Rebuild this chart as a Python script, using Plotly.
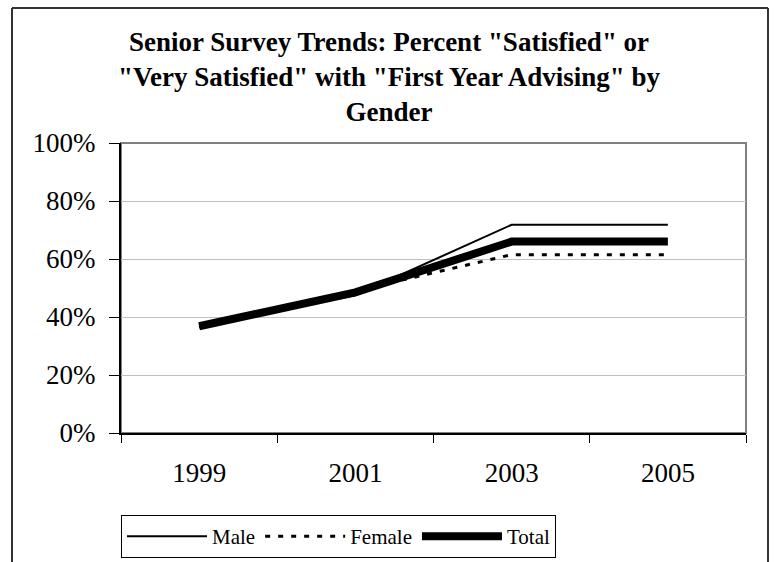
import plotly.graph_objects as go

years = ["1999", "2001", "2003", "2005"]
male = [0.37, 0.475, 0.718, 0.718]
female = [0.365, 0.49, 0.615, 0.615]
total = [0.368, 0.485, 0.66, 0.66]

FONT = "Liberation Serif, Times New Roman, serif"

fig = go.Figure()
fig.add_trace(go.Scatter(x=years, y=male, name="Male", mode="lines",
                         line=dict(color="black", width=2)))
fig.add_trace(go.Scatter(x=years, y=female, name="Female", mode="lines",
                         line=dict(color="black", width=3, dash="5px,8px")))
fig.add_trace(go.Scatter(x=years, y=total, name="Total", mode="lines",
                         line=dict(color="black", width=8)))

# plot area: x 121..746 px, y 143..433 px
L, R, T, B = 121, 746, 143, 433
W, H = 778, 562
pw, ph = R - L, B - T

def px(x):
    return (x - L) / pw

def py(y):
    return (B - y) / ph

shapes = [
    dict(type="rect", xref="paper", yref="paper", x0=0, x1=1, y0=0, y1=1,
         line=dict(color="#808080", width=2), layer="below"),
    dict(type="line", xref="paper", yref="paper", x0=px(12), x1=px(12), y0=py(8), y1=py(570),
         line=dict(color="#333333", width=2)),
    dict(type="line", xref="paper", yref="paper", x0=px(12), x1=px(768), y0=py(8), y1=py(8),
         line=dict(color="#333333", width=2)),
    dict(type="line", xref="paper", yref="paper", x0=px(768), x1=px(768), y0=py(8), y1=py(570),
         line=dict(color="#333333", width=2)),
]

fig.update_layout(
    width=W, height=H,
    margin=dict(l=L, r=W - R, t=T, b=H - B, autoexpand=False),
    paper_bgcolor="white", plot_bgcolor="white",
    font=dict(family=FONT, color="black"),
    title=dict(
        text='Senior Survey Trends: Percent "Satisfied" or<br>"Very Satisfied" with "First Year Advising" by<br>Gender',
        font=dict(family=FONT, size=27, color="black", weight="bold"),
        x=0.5, xref="container", xanchor="center",
        y=1 - 51 / H, yref="container", yanchor="top",
    ),
    xaxis=dict(
        type="category", range=[-0.5, 3.5], tickson="boundaries",
        ticks="outside", ticklen=8, tickcolor="black", tickwidth=1,
        showline=True, linecolor="black", linewidth=2,
        showgrid=False, zeroline=False,
        tickfont=dict(family=FONT, size=27, color="black"),
        ticklabelstandoff=15,
    ),
    yaxis=dict(
        range=[0, 1], dtick=0.2, tickformat=".0%",
        ticks="outside", ticklen=10, tickcolor="black", tickwidth=1,
        showline=True, linecolor="black", linewidth=2,
        showgrid=True, gridcolor="#c0c0c0", gridwidth=1,
        zeroline=False,
        tickfont=dict(family=FONT, size=27, color="black"),
        ticklabelstandoff=8,
    ),
    legend=dict(
        orientation="h", x=px(121), xanchor="left", y=py(515), yanchor="top",
        bordercolor="black", borderwidth=1, bgcolor="white",
        font=dict(family=FONT, size=21, color="black"),
        itemwidth=80,
        tracegroupgap=0,
    ),
    shapes=shapes,
)

fig.write_html("out.html")
